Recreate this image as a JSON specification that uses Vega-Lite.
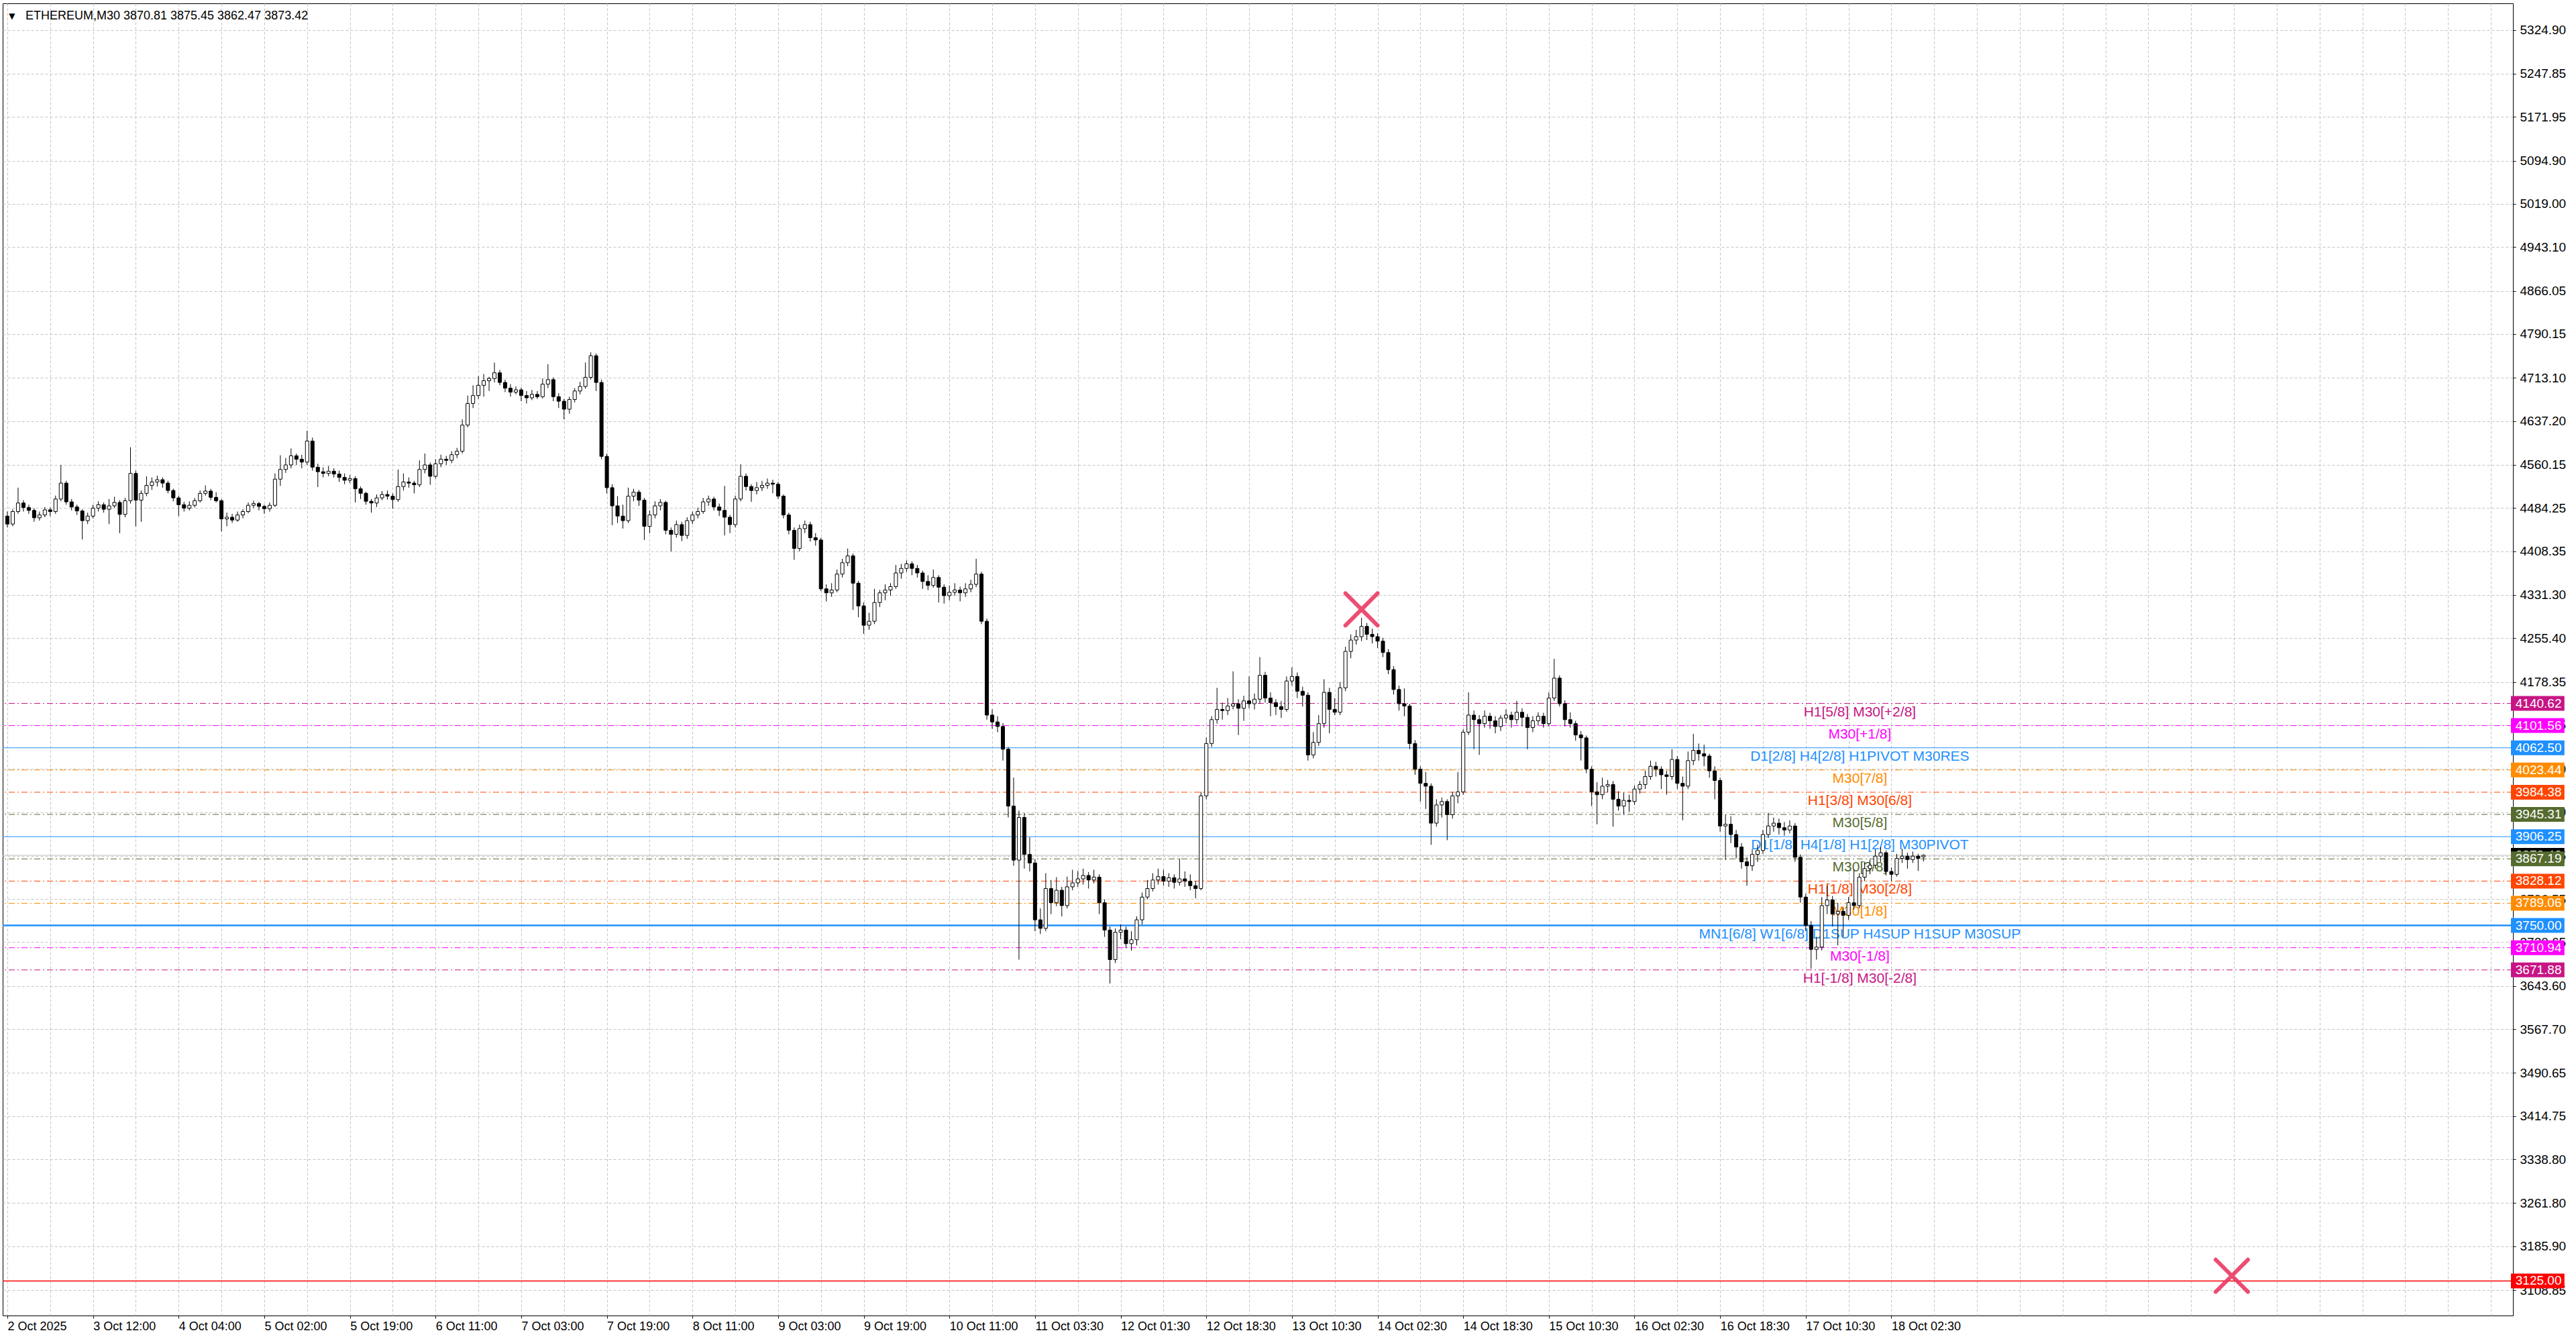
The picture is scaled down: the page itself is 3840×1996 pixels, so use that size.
{
"$schema": "https://vega.github.io/schema/vega-lite/v6.json",
"width": 3742, "height": 1956,
"autosize": {"type": "none"},
"padding": {"left": 4, "top": 5, "right": 94, "bottom": 35},
"background": "#ffffff",
"config": {"font": "Liberation Sans", "view": {"stroke": "#000000", "strokeWidth": 1}},
"resolve": {"axis": {"x": "independent", "y": "independent"}},
"datasets": {
"candles": [
{"k":0,"o":4470,"h":4478,"l":4450,"c":4456},{"k":1,"o":4456,"h":4482,"l":4452,"c":4478},{"k":2,"o":4478,"h":4520,"l":4474,"c":4493},{"k":3,"o":4493,"h":4498,"l":4478,"c":4485},{"k":4,"o":4485,"h":4490,"l":4474,"c":4480},{"k":5,"o":4480,"h":4484,"l":4460,"c":4467},{"k":6,"o":4467,"h":4478,"l":4462,"c":4472},{"k":7,"o":4472,"h":4486,"l":4468,"c":4481},{"k":8,"o":4481,"h":4485,"l":4470,"c":4478},{"k":9,"o":4478,"h":4506,"l":4474,"c":4500},
{"k":10,"o":4500,"h":4560,"l":4496,"c":4528},{"k":11,"o":4528,"h":4532,"l":4490,"c":4495},{"k":12,"o":4495,"h":4500,"l":4480,"c":4486},{"k":13,"o":4486,"h":4490,"l":4472,"c":4479},{"k":14,"o":4479,"h":4482,"l":4429,"c":4462},{"k":15,"o":4462,"h":4476,"l":4456,"c":4470},{"k":16,"o":4470,"h":4490,"l":4466,"c":4484},{"k":17,"o":4484,"h":4496,"l":4478,"c":4490},{"k":18,"o":4490,"h":4494,"l":4476,"c":4482},{"k":19,"o":4482,"h":4500,"l":4456,"c":4488},
{"k":20,"o":4488,"h":4504,"l":4484,"c":4494},{"k":21,"o":4494,"h":4498,"l":4440,"c":4473},{"k":22,"o":4473,"h":4502,"l":4468,"c":4497},{"k":23,"o":4497,"h":4591,"l":4492,"c":4545},{"k":24,"o":4545,"h":4550,"l":4452,"c":4498},{"k":25,"o":4498,"h":4515,"l":4460,"c":4510},{"k":26,"o":4510,"h":4540,"l":4505,"c":4524},{"k":27,"o":4524,"h":4538,"l":4516,"c":4530},{"k":28,"o":4530,"h":4541,"l":4522,"c":4534},{"k":29,"o":4534,"h":4538,"l":4520,"c":4528},
{"k":30,"o":4528,"h":4532,"l":4510,"c":4515},{"k":31,"o":4515,"h":4518,"l":4496,"c":4502},{"k":32,"o":4502,"h":4506,"l":4470,"c":4490},{"k":33,"o":4490,"h":4495,"l":4478,"c":4484},{"k":34,"o":4484,"h":4496,"l":4480,"c":4489},{"k":35,"o":4489,"h":4502,"l":4485,"c":4497},{"k":36,"o":4497,"h":4515,"l":4494,"c":4510},{"k":37,"o":4510,"h":4524,"l":4506,"c":4514},{"k":38,"o":4514,"h":4518,"l":4498,"c":4503},{"k":39,"o":4503,"h":4512,"l":4494,"c":4497},
{"k":40,"o":4497,"h":4500,"l":4443,"c":4465},{"k":41,"o":4465,"h":4476,"l":4452,"c":4468},{"k":42,"o":4468,"h":4474,"l":4458,"c":4463},{"k":43,"o":4463,"h":4478,"l":4460,"c":4472},{"k":44,"o":4472,"h":4482,"l":4466,"c":4478},{"k":45,"o":4478,"h":4494,"l":4475,"c":4489},{"k":46,"o":4489,"h":4497,"l":4484,"c":4492},{"k":47,"o":4492,"h":4495,"l":4480,"c":4487},{"k":48,"o":4487,"h":4490,"l":4474,"c":4483},{"k":49,"o":4483,"h":4494,"l":4478,"c":4489},
{"k":50,"o":4489,"h":4545,"l":4486,"c":4535},{"k":51,"o":4535,"h":4577,"l":4523,"c":4552},{"k":52,"o":4552,"h":4572,"l":4546,"c":4560},{"k":53,"o":4560,"h":4589,"l":4554,"c":4576},{"k":54,"o":4576,"h":4580,"l":4560,"c":4570},{"k":55,"o":4570,"h":4578,"l":4554,"c":4565},{"k":56,"o":4565,"h":4620,"l":4560,"c":4602},{"k":57,"o":4602,"h":4608,"l":4550,"c":4556},{"k":58,"o":4556,"h":4562,"l":4521,"c":4548},{"k":59,"o":4548,"h":4556,"l":4538,"c":4545},
{"k":60,"o":4545,"h":4558,"l":4540,"c":4549},{"k":61,"o":4549,"h":4554,"l":4538,"c":4544},{"k":62,"o":4544,"h":4550,"l":4530,"c":4538},{"k":63,"o":4538,"h":4545,"l":4526,"c":4533},{"k":64,"o":4533,"h":4542,"l":4528,"c":4536},{"k":65,"o":4536,"h":4540,"l":4494,"c":4518},{"k":66,"o":4518,"h":4522,"l":4500,"c":4510},{"k":67,"o":4510,"h":4513,"l":4490,"c":4496},{"k":68,"o":4496,"h":4500,"l":4476,"c":4493},{"k":69,"o":4493,"h":4508,"l":4486,"c":4502},
{"k":70,"o":4502,"h":4514,"l":4498,"c":4508},{"k":71,"o":4508,"h":4515,"l":4499,"c":4505},{"k":72,"o":4505,"h":4510,"l":4483,"c":4499},{"k":73,"o":4499,"h":4552,"l":4495,"c":4522},{"k":74,"o":4522,"h":4545,"l":4515,"c":4530},{"k":75,"o":4530,"h":4538,"l":4520,"c":4528},{"k":76,"o":4528,"h":4532,"l":4510,"c":4525},{"k":77,"o":4525,"h":4568,"l":4521,"c":4552},{"k":78,"o":4552,"h":4580,"l":4545,"c":4560},{"k":79,"o":4560,"h":4564,"l":4525,"c":4540},
{"k":80,"o":4540,"h":4570,"l":4536,"c":4562},{"k":81,"o":4562,"h":4578,"l":4556,"c":4570},{"k":82,"o":4570,"h":4576,"l":4560,"c":4568},{"k":83,"o":4568,"h":4584,"l":4563,"c":4578},{"k":84,"o":4578,"h":4590,"l":4572,"c":4584},{"k":85,"o":4584,"h":4640,"l":4580,"c":4630},{"k":86,"o":4630,"h":4682,"l":4626,"c":4668},{"k":87,"o":4668,"h":4700,"l":4660,"c":4682},{"k":88,"o":4682,"h":4716,"l":4676,"c":4700},{"k":89,"o":4700,"h":4720,"l":4680,"c":4708},
{"k":90,"o":4708,"h":4715,"l":4690,"c":4712},{"k":91,"o":4712,"h":4740,"l":4705,"c":4722},{"k":92,"o":4722,"h":4727,"l":4700,"c":4705},{"k":93,"o":4705,"h":4710,"l":4688,"c":4695},{"k":94,"o":4695,"h":4702,"l":4680,"c":4688},{"k":95,"o":4688,"h":4698,"l":4684,"c":4692},{"k":96,"o":4692,"h":4696,"l":4672,"c":4682},{"k":97,"o":4682,"h":4690,"l":4668,"c":4678},{"k":98,"o":4678,"h":4692,"l":4674,"c":4684},{"k":99,"o":4684,"h":4690,"l":4676,"c":4680},
{"k":100,"o":4680,"h":4712,"l":4677,"c":4702},{"k":101,"o":4702,"h":4737,"l":4695,"c":4710},{"k":102,"o":4710,"h":4714,"l":4672,"c":4680},{"k":103,"o":4680,"h":4686,"l":4660,"c":4672},{"k":104,"o":4672,"h":4676,"l":4640,"c":4658},{"k":105,"o":4658,"h":4680,"l":4650,"c":4675},{"k":106,"o":4675,"h":4695,"l":4670,"c":4690},{"k":107,"o":4690,"h":4706,"l":4684,"c":4698},{"k":108,"o":4698,"h":4740,"l":4694,"c":4714},{"k":109,"o":4714,"h":4758,"l":4710,"c":4752},
{"k":110,"o":4752,"h":4756,"l":4690,"c":4705},{"k":111,"o":4705,"h":4710,"l":4570,"c":4575},{"k":112,"o":4575,"h":4580,"l":4510,"c":4520},{"k":113,"o":4520,"h":4526,"l":4454,"c":4488},{"k":114,"o":4488,"h":4505,"l":4458,"c":4470},{"k":115,"o":4470,"h":4490,"l":4448,"c":4462},{"k":116,"o":4462,"h":4520,"l":4458,"c":4505},{"k":117,"o":4505,"h":4518,"l":4496,"c":4512},{"k":118,"o":4512,"h":4516,"l":4488,"c":4498},{"k":119,"o":4498,"h":4502,"l":4428,"c":4452},
{"k":120,"o":4452,"h":4480,"l":4440,"c":4472},{"k":121,"o":4472,"h":4496,"l":4466,"c":4488},{"k":122,"o":4488,"h":4500,"l":4480,"c":4494},{"k":123,"o":4494,"h":4497,"l":4438,"c":4445},{"k":124,"o":4445,"h":4450,"l":4408,"c":4438},{"k":125,"o":4438,"h":4462,"l":4432,"c":4455},{"k":126,"o":4455,"h":4460,"l":4426,"c":4436},{"k":127,"o":4436,"h":4468,"l":4430,"c":4462},{"k":128,"o":4462,"h":4478,"l":4456,"c":4472},{"k":129,"o":4472,"h":4485,"l":4466,"c":4478},
{"k":130,"o":4478,"h":4502,"l":4474,"c":4495},{"k":131,"o":4495,"h":4506,"l":4488,"c":4500},{"k":132,"o":4500,"h":4504,"l":4480,"c":4486},{"k":133,"o":4486,"h":4492,"l":4470,"c":4480},{"k":134,"o":4480,"h":4523,"l":4436,"c":4468},{"k":135,"o":4468,"h":4472,"l":4440,"c":4455},{"k":136,"o":4455,"h":4506,"l":4450,"c":4500},{"k":137,"o":4500,"h":4561,"l":4496,"c":4540},{"k":138,"o":4540,"h":4545,"l":4515,"c":4522},{"k":139,"o":4522,"h":4526,"l":4495,"c":4515},
{"k":140,"o":4515,"h":4530,"l":4508,"c":4520},{"k":141,"o":4520,"h":4532,"l":4514,"c":4524},{"k":142,"o":4524,"h":4536,"l":4518,"c":4528},{"k":143,"o":4528,"h":4534,"l":4510,"c":4526},{"k":144,"o":4526,"h":4530,"l":4500,"c":4505},{"k":145,"o":4505,"h":4508,"l":4466,"c":4472},{"k":146,"o":4472,"h":4476,"l":4438,"c":4445},{"k":147,"o":4445,"h":4450,"l":4393,"c":4413},{"k":148,"o":4413,"h":4455,"l":4408,"c":4448},{"k":149,"o":4448,"h":4462,"l":4440,"c":4455},
{"k":150,"o":4455,"h":4460,"l":4425,"c":4432},{"k":151,"o":4432,"h":4440,"l":4418,"c":4428},{"k":152,"o":4428,"h":4432,"l":4338,"c":4342},{"k":153,"o":4342,"h":4350,"l":4320,"c":4335},{"k":154,"o":4335,"h":4352,"l":4328,"c":4340},{"k":155,"o":4340,"h":4376,"l":4336,"c":4368},{"k":156,"o":4368,"h":4395,"l":4362,"c":4388},{"k":157,"o":4388,"h":4413,"l":4382,"c":4400},{"k":158,"o":4400,"h":4404,"l":4305,"c":4352},{"k":159,"o":4352,"h":4356,"l":4292,"c":4312},
{"k":160,"o":4312,"h":4318,"l":4263,"c":4278},{"k":161,"o":4278,"h":4300,"l":4270,"c":4285},{"k":162,"o":4285,"h":4342,"l":4280,"c":4318},{"k":163,"o":4318,"h":4340,"l":4310,"c":4335},{"k":164,"o":4335,"h":4350,"l":4322,"c":4340},{"k":165,"o":4340,"h":4352,"l":4330,"c":4346},{"k":166,"o":4346,"h":4384,"l":4342,"c":4370},{"k":167,"o":4370,"h":4386,"l":4360,"c":4378},{"k":168,"o":4378,"h":4392,"l":4372,"c":4386},{"k":169,"o":4386,"h":4390,"l":4366,"c":4378},
{"k":170,"o":4378,"h":4384,"l":4362,"c":4370},{"k":171,"o":4370,"h":4374,"l":4342,"c":4355},{"k":172,"o":4355,"h":4366,"l":4340,"c":4348},{"k":173,"o":4348,"h":4376,"l":4344,"c":4362},{"k":174,"o":4362,"h":4366,"l":4318,"c":4345},{"k":175,"o":4345,"h":4350,"l":4316,"c":4330},{"k":176,"o":4330,"h":4348,"l":4322,"c":4336},{"k":177,"o":4336,"h":4352,"l":4330,"c":4340},{"k":178,"o":4340,"h":4346,"l":4320,"c":4335},{"k":179,"o":4335,"h":4352,"l":4328,"c":4342},
{"k":180,"o":4342,"h":4358,"l":4336,"c":4350},{"k":181,"o":4350,"h":4395,"l":4345,"c":4368},{"k":182,"o":4368,"h":4372,"l":4280,"c":4285},{"k":183,"o":4285,"h":4290,"l":4112,"c":4120},{"k":184,"o":4120,"h":4130,"l":4096,"c":4108},{"k":185,"o":4108,"h":4118,"l":4090,"c":4100},{"k":186,"o":4100,"h":4106,"l":4040,"c":4060},{"k":187,"o":4060,"h":4064,"l":3940,"c":3960},{"k":188,"o":3960,"h":4010,"l":3855,"c":3865},{"k":189,"o":3865,"h":3952,"l":3690,"c":3940},
{"k":190,"o":3940,"h":3948,"l":3850,"c":3875},{"k":191,"o":3875,"h":3905,"l":3845,"c":3860},{"k":192,"o":3860,"h":3866,"l":3740,"c":3760},{"k":193,"o":3760,"h":3780,"l":3735,"c":3745},{"k":194,"o":3745,"h":3842,"l":3740,"c":3815},{"k":195,"o":3815,"h":3830,"l":3770,"c":3790},{"k":196,"o":3790,"h":3835,"l":3784,"c":3812},{"k":197,"o":3812,"h":3818,"l":3766,"c":3785},{"k":198,"o":3785,"h":3836,"l":3780,"c":3818},{"k":199,"o":3818,"h":3848,"l":3812,"c":3825},
{"k":200,"o":3825,"h":3846,"l":3818,"c":3832},{"k":201,"o":3832,"h":3850,"l":3822,"c":3838},{"k":202,"o":3838,"h":3844,"l":3815,"c":3830},{"k":203,"o":3830,"h":3848,"l":3824,"c":3835},{"k":204,"o":3835,"h":3840,"l":3770,"c":3790},{"k":205,"o":3790,"h":3796,"l":3730,"c":3742},{"k":206,"o":3742,"h":3748,"l":3648,"c":3690},{"k":207,"o":3690,"h":3745,"l":3684,"c":3738},{"k":208,"o":3738,"h":3752,"l":3726,"c":3742},{"k":209,"o":3742,"h":3748,"l":3710,"c":3718},
{"k":210,"o":3718,"h":3740,"l":3706,"c":3725},{"k":211,"o":3725,"h":3766,"l":3715,"c":3760},{"k":212,"o":3760,"h":3808,"l":3752,"c":3800},{"k":213,"o":3800,"h":3830,"l":3796,"c":3815},{"k":214,"o":3815,"h":3842,"l":3810,"c":3830},{"k":215,"o":3830,"h":3850,"l":3822,"c":3836},{"k":216,"o":3836,"h":3848,"l":3820,"c":3828},{"k":217,"o":3828,"h":3842,"l":3818,"c":3834},{"k":218,"o":3834,"h":3840,"l":3815,"c":3826},{"k":219,"o":3826,"h":3868,"l":3820,"c":3832},
{"k":220,"o":3832,"h":3845,"l":3818,"c":3828},{"k":221,"o":3828,"h":3840,"l":3812,"c":3820},{"k":222,"o":3820,"h":3828,"l":3798,"c":3815},{"k":223,"o":3815,"h":3985,"l":3812,"c":3978},{"k":224,"o":3978,"h":4080,"l":3972,"c":4070},{"k":225,"o":4070,"h":4118,"l":4064,"c":4112},{"k":226,"o":4112,"h":4168,"l":4105,"c":4130},{"k":227,"o":4130,"h":4142,"l":4112,"c":4128},{"k":228,"o":4128,"h":4150,"l":4120,"c":4136},{"k":229,"o":4136,"h":4197,"l":4130,"c":4140},
{"k":230,"o":4140,"h":4148,"l":4085,"c":4132},{"k":231,"o":4132,"h":4154,"l":4110,"c":4145},{"k":232,"o":4145,"h":4188,"l":4132,"c":4140},{"k":233,"o":4140,"h":4158,"l":4130,"c":4148},{"k":234,"o":4148,"h":4222,"l":4140,"c":4190},{"k":235,"o":4190,"h":4196,"l":4142,"c":4150},{"k":236,"o":4150,"h":4160,"l":4118,"c":4142},{"k":237,"o":4142,"h":4148,"l":4120,"c":4135},{"k":238,"o":4135,"h":4145,"l":4115,"c":4130},{"k":239,"o":4130,"h":4188,"l":4126,"c":4180},
{"k":240,"o":4180,"h":4204,"l":4172,"c":4188},{"k":241,"o":4188,"h":4195,"l":4150,"c":4162},{"k":242,"o":4162,"h":4170,"l":4135,"c":4155},{"k":243,"o":4155,"h":4160,"l":4040,"c":4050},{"k":244,"o":4050,"h":4090,"l":4044,"c":4072},{"k":245,"o":4072,"h":4120,"l":4066,"c":4105},{"k":246,"o":4105,"h":4183,"l":4098,"c":4160},{"k":247,"o":4160,"h":4168,"l":4088,"c":4130},{"k":248,"o":4130,"h":4150,"l":4120,"c":4125},{"k":249,"o":4125,"h":4178,"l":4120,"c":4168},
{"k":250,"o":4168,"h":4240,"l":4162,"c":4232},{"k":251,"o":4232,"h":4262,"l":4220,"c":4252},{"k":252,"o":4252,"h":4270,"l":4244,"c":4258},{"k":253,"o":4258,"h":4291,"l":4250,"c":4276},{"k":254,"o":4276,"h":4282,"l":4252,"c":4262},{"k":255,"o":4262,"h":4272,"l":4246,"c":4258},{"k":256,"o":4258,"h":4264,"l":4238,"c":4250},{"k":257,"o":4250,"h":4256,"l":4222,"c":4230},{"k":258,"o":4230,"h":4236,"l":4192,"c":4200},{"k":259,"o":4200,"h":4206,"l":4156,"c":4165},
{"k":260,"o":4165,"h":4172,"l":4128,"c":4140},{"k":261,"o":4140,"h":4167,"l":4118,"c":4136},{"k":262,"o":4136,"h":4140,"l":4060,"c":4070},{"k":263,"o":4070,"h":4076,"l":4015,"c":4025},{"k":264,"o":4025,"h":4030,"l":3968,"c":4000},{"k":265,"o":4000,"h":4020,"l":3955,"c":3995},{"k":266,"o":3995,"h":4000,"l":3892,"c":3930},{"k":267,"o":3930,"h":3972,"l":3924,"c":3962},{"k":268,"o":3962,"h":3975,"l":3940,"c":3968},{"k":269,"o":3968,"h":3972,"l":3900,"c":3945},
{"k":270,"o":3945,"h":3985,"l":3938,"c":3978},{"k":271,"o":3978,"h":4020,"l":3965,"c":3985},{"k":272,"o":3985,"h":4095,"l":3980,"c":4090},{"k":273,"o":4090,"h":4160,"l":4085,"c":4120},{"k":274,"o":4120,"h":4128,"l":4060,"c":4112},{"k":275,"o":4112,"h":4120,"l":4050,"c":4105},{"k":276,"o":4105,"h":4128,"l":4098,"c":4118},{"k":277,"o":4118,"h":4124,"l":4096,"c":4110},{"k":278,"o":4110,"h":4118,"l":4088,"c":4100},{"k":279,"o":4100,"h":4120,"l":4092,"c":4115},
{"k":280,"o":4115,"h":4130,"l":4106,"c":4120},{"k":281,"o":4120,"h":4126,"l":4098,"c":4112},{"k":282,"o":4112,"h":4145,"l":4104,"c":4125},{"k":283,"o":4125,"h":4132,"l":4100,"c":4116},{"k":284,"o":4116,"h":4122,"l":4060,"c":4098},{"k":285,"o":4098,"h":4118,"l":4090,"c":4110},{"k":286,"o":4110,"h":4125,"l":4102,"c":4118},{"k":287,"o":4118,"h":4124,"l":4098,"c":4105},{"k":288,"o":4105,"h":4160,"l":4100,"c":4150},{"k":289,"o":4150,"h":4219,"l":4145,"c":4185},
{"k":290,"o":4185,"h":4190,"l":4135,"c":4140},{"k":291,"o":4140,"h":4146,"l":4100,"c":4112},{"k":292,"o":4112,"h":4125,"l":4098,"c":4105},{"k":293,"o":4105,"h":4110,"l":4075,"c":4085},{"k":294,"o":4085,"h":4092,"l":4040,"c":4080},{"k":295,"o":4080,"h":4084,"l":4018,"c":4025},{"k":296,"o":4025,"h":4030,"l":3960,"c":3985},{"k":297,"o":3985,"h":4002,"l":3928,"c":3980},{"k":298,"o":3980,"h":4010,"l":3972,"c":3995},{"k":299,"o":3995,"h":4006,"l":3984,"c":3998},
{"k":300,"o":3998,"h":4004,"l":3924,"c":3972},{"k":301,"o":3972,"h":3986,"l":3952,"c":3960},{"k":302,"o":3960,"h":3984,"l":3945,"c":3970},{"k":303,"o":3970,"h":3980,"l":3950,"c":3968},{"k":304,"o":3968,"h":3996,"l":3962,"c":3990},{"k":305,"o":3990,"h":4004,"l":3982,"c":3998},{"k":306,"o":3998,"h":4022,"l":3990,"c":4012},{"k":307,"o":4012,"h":4040,"l":4006,"c":4030},{"k":308,"o":4030,"h":4038,"l":4012,"c":4025},{"k":309,"o":4025,"h":4030,"l":3990,"c":4015},
{"k":310,"o":4015,"h":4022,"l":3980,"c":4012},{"k":311,"o":4012,"h":4060,"l":4006,"c":4042},{"k":312,"o":4042,"h":4048,"l":3990,"c":4000},{"k":313,"o":4000,"h":4012,"l":3935,"c":3995},{"k":314,"o":3995,"h":4056,"l":3990,"c":4040},{"k":315,"o":4040,"h":4087,"l":4032,"c":4058},{"k":316,"o":4058,"h":4070,"l":4040,"c":4052},{"k":317,"o":4052,"h":4068,"l":4030,"c":4048},{"k":318,"o":4048,"h":4052,"l":4010,"c":4022},{"k":319,"o":4022,"h":4030,"l":3972,"c":4005},
{"k":320,"o":4005,"h":4010,"l":3915,"c":3925},{"k":321,"o":3925,"h":3945,"l":3865,"c":3928},{"k":322,"o":3928,"h":3942,"l":3895,"c":3910},{"k":323,"o":3910,"h":3918,"l":3868,"c":3888},{"k":324,"o":3888,"h":3895,"l":3850,"c":3862},{"k":325,"o":3862,"h":3870,"l":3820,"c":3855},{"k":326,"o":3855,"h":3884,"l":3846,"c":3875},{"k":327,"o":3875,"h":3892,"l":3862,"c":3882},{"k":328,"o":3882,"h":3918,"l":3876,"c":3910},{"k":329,"o":3910,"h":3948,"l":3904,"c":3925},
{"k":330,"o":3925,"h":3940,"l":3915,"c":3930},{"k":331,"o":3930,"h":3938,"l":3910,"c":3922},{"k":332,"o":3922,"h":3932,"l":3908,"c":3918},{"k":333,"o":3918,"h":3935,"l":3912,"c":3925},{"k":334,"o":3925,"h":3930,"l":3862,"c":3870},{"k":335,"o":3870,"h":3875,"l":3790,"c":3800},{"k":336,"o":3800,"h":3806,"l":3740,"c":3750},{"k":337,"o":3750,"h":3758,"l":3674,"c":3708},{"k":338,"o":3708,"h":3730,"l":3690,"c":3712},{"k":339,"o":3712,"h":3800,"l":3706,"c":3785},
{"k":340,"o":3785,"h":3820,"l":3770,"c":3795},{"k":341,"o":3795,"h":3802,"l":3748,"c":3770},{"k":342,"o":3770,"h":3790,"l":3715,"c":3775},{"k":343,"o":3775,"h":3782,"l":3730,"c":3768},{"k":344,"o":3768,"h":3800,"l":3760,"c":3790},{"k":345,"o":3790,"h":3848,"l":3778,"c":3785},{"k":346,"o":3785,"h":3842,"l":3780,"c":3835},{"k":347,"o":3835,"h":3862,"l":3828,"c":3850},{"k":348,"o":3850,"h":3866,"l":3840,"c":3856},{"k":349,"o":3856,"h":3884,"l":3850,"c":3872},
{"k":350,"o":3872,"h":3888,"l":3862,"c":3878},{"k":351,"o":3878,"h":3882,"l":3838,"c":3845},{"k":352,"o":3845,"h":3852,"l":3828,"c":3840},{"k":353,"o":3840,"h":3876,"l":3836,"c":3868},{"k":354,"o":3868,"h":3885,"l":3860,"c":3872},{"k":355,"o":3872,"h":3878,"l":3850,"c":3866},{"k":356,"o":3866,"h":3880,"l":3860,"c":3872},{"k":357,"o":3872,"h":3876,"l":3846,"c":3868},{"k":358,"o":3870.81,"h":3875.45,"l":3862.47,"c":3873.42}
],
"levels": [
{"p":4140.62,"label":"H1[5/8] M30[+2/8]","kind":"dashdot"},
{"p":4101.56,"label":"M30[+1/8]","kind":"dashdot"},
{"p":4062.50,"label":"D1[2/8] H4[2/8] H1PIVOT M30RES","kind":"solid"},
{"p":4023.44,"label":"M30[7/8]","kind":"dashdot"},
{"p":3984.38,"label":"H1[3/8] M30[6/8]","kind":"dashdot"},
{"p":3945.31,"label":"M30[5/8]","kind":"dashdot"},
{"p":3906.25,"label":"D1[1/8] H4[1/8] H1[2/8] M30PIVOT","kind":"solid"},
{"p":3867.19,"label":"M30[3/8]","kind":"dashdot"},
{"p":3828.12,"label":"H1[1/8] M30[2/8]","kind":"dashdot"},
{"p":3789.06,"label":"M30[1/8]","kind":"dashdot"},
{"p":3750.00,"label":"MN1[6/8] W1[6/8] D1SUP H4SUP H1SUP M30SUP","kind":"major"},
{"p":3710.94,"label":"M30[-1/8]","kind":"dashdot"},
{"p":3671.88,"label":"H1[-1/8] M30[-2/8]","kind":"dashdot"},
{"p":3125.00,"label":"target","kind":"target"}
],
"last": [{"p":3873.42}],
"xmarks": [{"k":253,"p":4306},{"k":415.6,"p":3134}],
"header": [{"text":"ETHEREUM,M30  3870.81 3875.45 3862.47 3873.42"}]
},
"layer": [
{"data":{"name":"last"},"mark":{"type":"rule","color":"#C0C0C0","strokeWidth":1},
 "encoding":{"y":{"field":"p","type":"quantitative","axis":null}}},
{"data":{"name":"levels"},"mark":{"type":"rule"},
 "encoding":{
  "y":{"field":"p","type":"quantitative","axis":null},
  "color":{"field":"label","type":"nominal","legend":null,
   "scale":{"domain":["H1[5/8] M30[+2/8]","M30[+1/8]","D1[2/8] H4[2/8] H1PIVOT M30RES","M30[7/8]","H1[3/8] M30[6/8]","M30[5/8]","D1[1/8] H4[1/8] H1[2/8] M30PIVOT","M30[3/8]","H1[1/8] M30[2/8]","M30[1/8]","MN1[6/8] W1[6/8] D1SUP H4SUP H1SUP M30SUP","M30[-1/8]","H1[-1/8] M30[-2/8]","target"],
   "range":["#C71585","#FF00FF","#1E90FF","#FF8C00","#FF4500","#556B2F","#1E90FF","#556B2F","#FF4500","#FF8C00","#1E90FF","#FF00FF","#C71585","#FF0000"]}},
  "strokeDash":{"condition":{"test":"datum.kind == 'dashdot'","value":[9,4,2,4]},"value":[1,0]},
  "strokeWidth":{"condition":[{"test":"datum.kind == 'major'","value":2.5},{"test":"datum.kind == 'target'","value":1.5}],"value":1}
 }},
{"data":{"name":"levels"},"transform":[{"filter":"datum.kind != 'target'"}],
 "mark":{"type":"text","align":"center","baseline":"alphabetic","dy":19,"fontSize":21,"font":"Liberation Sans"},
 "encoding":{
  "x":{"datum":346.1,"type":"quantitative","axis":null},
  "y":{"field":"p","type":"quantitative","axis":null},
  "text":{"field":"label","type":"nominal"},
  "color":{"field":"label","type":"nominal","legend":null}
 }},
{"data":{"name":"candles"},"mark":{"type":"rule","color":"#000000","strokeWidth":1},
 "encoding":{
  "x":{"field":"k","type":"quantitative","scale":{"domain":[-0.25,467.5],"nice":false,"zero":false},
   "axis":{"orient":"bottom","title":null,"labels":false,"ticks":false,"domain":false,"grid":true,"gridColor":"#C4C4C4","gridDash":[4,3],"gridWidth":1,
    "values":[0,8,16,24,32,40,48,56,64,72,80,88,96,104,112,120,128,136,144,152,160,168,176,184,192,200,208,216,224,232,240,248,256,264,272,280,288,296,304,312,320,328,336,344,352,360,368,376,384,392,400,408,416,424,432,440,448,456,464]}},
  "y":{"field":"l","type":"quantitative","scale":{"domain":[3070,5365.8],"nice":false,"zero":false},
   "axis":{"orient":"right","title":null,"format":".2f","grid":true,"gridColor":"#C4C4C4","gridDash":[4,3],"gridWidth":1,"domain":false,
    "tickSize":4,"tickColor":"#000000","labelPadding":6,"labelFontSize":19,"labelFont":"Liberation Sans","labelColor":"#000000","labelOverlap":false,"labelBound":false,"labelFlush":false,
    "values":[5324.9,5247.85,5171.95,5094.9,5019,4943.1,4866.05,4790.15,4713.1,4637.2,4560.15,4484.25,4408.35,4331.3,4255.4,4178.35,4102.45,4025.4,3949.5,3872.45,3796.55,3720.65,3643.6,3567.7,3490.65,3414.75,3338.8,3261.8,3185.9,3108.85]}},
  "y2":{"field":"h"}
 }},
{"data":{"name":"candles"},"mark":{"type":"bar","width":5,"stroke":"#000000","strokeWidth":1},
 "encoding":{
  "x":{"field":"k","type":"quantitative",
   "axis":{"orient":"bottom","title":null,"grid":false,"domain":false,"tickSize":4,"tickColor":"#000000","labelPadding":3,"labelAlign":"left","labelBaseline":"top","labelFontSize":18,"labelFont":"Liberation Sans","labelColor":"#000000","labelOverlap":false,"labelFlush":false,"labelBound":false,
    "values":[0,16,32,48,64,80,96,112,128,144,160,176,192,208,224,240,256,272,288,304,320,336,352],
    "labelExpr":"['2 Oct 2025','3 Oct 12:00','4 Oct 04:00','5 Oct 02:00','5 Oct 19:00','6 Oct 11:00','7 Oct 03:00','7 Oct 19:00','8 Oct 11:00','9 Oct 03:00','9 Oct 19:00','10 Oct 11:00','11 Oct 03:30','12 Oct 01:30','12 Oct 18:30','13 Oct 10:30','14 Oct 02:30','14 Oct 18:30','15 Oct 10:30','16 Oct 02:30','16 Oct 18:30','17 Oct 10:30','18 Oct 02:30'][round(datum.value/16)]"}},
  "y":{"field":"o","type":"quantitative","axis":null},
  "y2":{"field":"c"},
  "fill":{"condition":{"test":"datum.o > datum.c","value":"#000000"},"value":"#ffffff"}
 }},
{"data":{"name":"last"},"mark":{"type":"bar","orient":"horizontal","height":22,"clip":false,"color":"#000000"},
 "encoding":{
  "x":{"datum":467.75,"type":"quantitative","axis":null},"x2":{"datum":477.75},
  "y":{"field":"p","type":"quantitative","axis":null}
 }},
{"data":{"name":"last"},"mark":{"type":"text","align":"left","baseline":"middle","fontSize":19,"font":"Liberation Sans","color":"#ffffff","clip":false},
 "encoding":{
  "x":{"datum":468.6,"type":"quantitative","axis":null},
  "y":{"field":"p","type":"quantitative","axis":null},
  "text":{"field":"p","type":"quantitative","format":".2f"}
 }},
{"data":{"name":"levels"},"mark":{"type":"bar","orient":"horizontal","height":22,"clip":false},
 "encoding":{
  "x":{"datum":467.75,"type":"quantitative","axis":null},"x2":{"datum":477.75},
  "y":{"field":"p","type":"quantitative","axis":null},
  "color":{"field":"label","type":"nominal","legend":null}
 }},
{"data":{"name":"levels"},"mark":{"type":"text","align":"left","baseline":"middle","fontSize":19,"font":"Liberation Sans","color":"#ffffff","clip":false},
 "encoding":{
  "x":{"datum":468.6,"type":"quantitative","axis":null},
  "y":{"field":"p","type":"quantitative","axis":null},
  "text":{"field":"p","type":"quantitative","format":".2f"}
 }},
{"data":{"name":"xmarks"},"mark":{"type":"point","shape":"M-1,-1L1,1M-1,1L1,-1","size":2300,"filled":false,"strokeWidth":6,"strokeCap":"round","color":"#EB3A64","opacity":0.9},
 "encoding":{
  "x":{"field":"k","type":"quantitative","axis":null},
  "y":{"field":"p","type":"quantitative","axis":null}
 }},
{"data":{"name":"header"},"mark":{"type":"text","align":"left","baseline":"middle","fontSize":18,"font":"Liberation Sans","color":"#000000"},
 "encoding":{
  "x":{"datum":3.375,"type":"quantitative","axis":null},
  "y":{"datum":5349.4,"type":"quantitative","axis":null},
  "text":{"field":"text","type":"nominal"}
 }},
{"data":{"name":"header"},"mark":{"type":"text","align":"center","baseline":"middle","fontSize":12,"font":"DejaVu Sans","color":"#000000","text":"▼"},
 "encoding":{
  "x":{"datum":0.875,"type":"quantitative","axis":null},
  "y":{"datum":5349.4,"type":"quantitative","axis":null}
 }}
]
}
